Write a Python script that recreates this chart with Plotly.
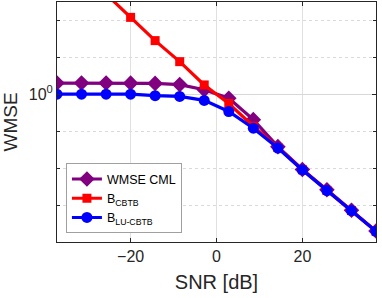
import plotly.graph_objects as go

snr_db = [-37.14, -31.43, -25.71, -20.0, -14.29, -8.57, -2.86,
          2.86, 8.57, 14.29, 20.0, 25.71, 31.43, 37.14]
wmse_cml = [2.0, 2.0, 2.0, 1.99, 1.96, 1.82, 1.32, 0.78, 0.205, 0.038,
            0.0092, 0.0026, 0.00072, 0.000198]
b_cbtb = [9300, 2190, 513, 120, 28.2, 7.6, 1.78, 0.56, 0.136, 0.036,
          0.0090, 0.00248, 0.00071, 0.000195]
b_lu_cbtb = [1.0, 1.0, 1.0, 1.0, 0.91, 0.87, 0.68, 0.34, 0.12, 0.035,
             0.0089, 0.00246, 0.00071, 0.000195]

names = ["WMSE CML", "B<sub>CBTB</sub>", "B<sub>LU-CBTB</sub>"]
colors = ["#800080", "#ff0000", "#0000ff"]
symbols = ["diamond", "square", "circle"]
sizes = [12, 9, 11]
series = [wmse_cml, b_cbtb, b_lu_cbtb]

decades = [1e-4, 1e-3, 1e-2, 1e-1, 1, 10, 100]

fig = go.Figure()
for name, col, sym, sz, ys in zip(names, colors, symbols, sizes, series):
    fig.add_trace(go.Scatter(
        x=snr_db, y=ys, name=name, mode="lines+markers",
        line=dict(color=col, width=3.2),
        marker=dict(symbol=sym, size=sz, color=col),
        cliponaxis=True,
    ))

axcol = "#262626"
gridcol = "#e0e0e0"
fig.update_layout(
    width=382, height=298,
    margin=dict(l=57, r=6, t=2, b=56, autoexpand=False),
    paper_bgcolor="white", plot_bgcolor="white",
    font=dict(family="Liberation Sans, Arial, sans-serif", size=16, color=axcol),
    showlegend=True,
    legend=dict(
        x=0.028, y=0.036, xanchor="left", yanchor="bottom",
        bgcolor="white", bordercolor="#a0a0a0", borderwidth=1,
        font=dict(size=12.5, color="black"),
        tracegroupgap=0, itemwidth=30,
    ),
    xaxis=dict(
        range=[-37.14, 37.14],
        tickvals=[-20, 0, 20],
        ticks="inside", ticklen=4, tickcolor=axcol,
        showline=True, linecolor=axcol, linewidth=1, mirror="ticks",
        showgrid=True, gridcolor=gridcol, gridwidth=1,
        zeroline=False, automargin=False,
        title=dict(text="SNR [dB]", font=dict(size=20), standoff=10),
        tickfont=dict(size=16),
    ),
    yaxis=dict(
        type="log",
        range=[-4.0, 2.495],
        tickvals=[1], ticktext=["10<sup>0</sup>"],
        ticks="inside", ticklen=4, tickcolor=axcol,
        showline=True, linecolor=axcol, linewidth=1, mirror="ticks",
        showgrid=True, gridcolor="#d8d8d8", gridwidth=1,
        zeroline=False, automargin=False,
        minor=dict(tickvals=decades, ticks="inside", ticklen=3,
                   tickcolor=axcol, showgrid=True, gridcolor="#dadada",
                   griddash="dot", gridwidth=1),
        title=dict(text="WMSE", font=dict(size=19), standoff=8),
        tickfont=dict(size=16),
    ),
)

fig.write_html("out.html",
               config={"displayModeBar": False},
               post_script="document.body.style.margin='0';document.body.style.padding='0';")
